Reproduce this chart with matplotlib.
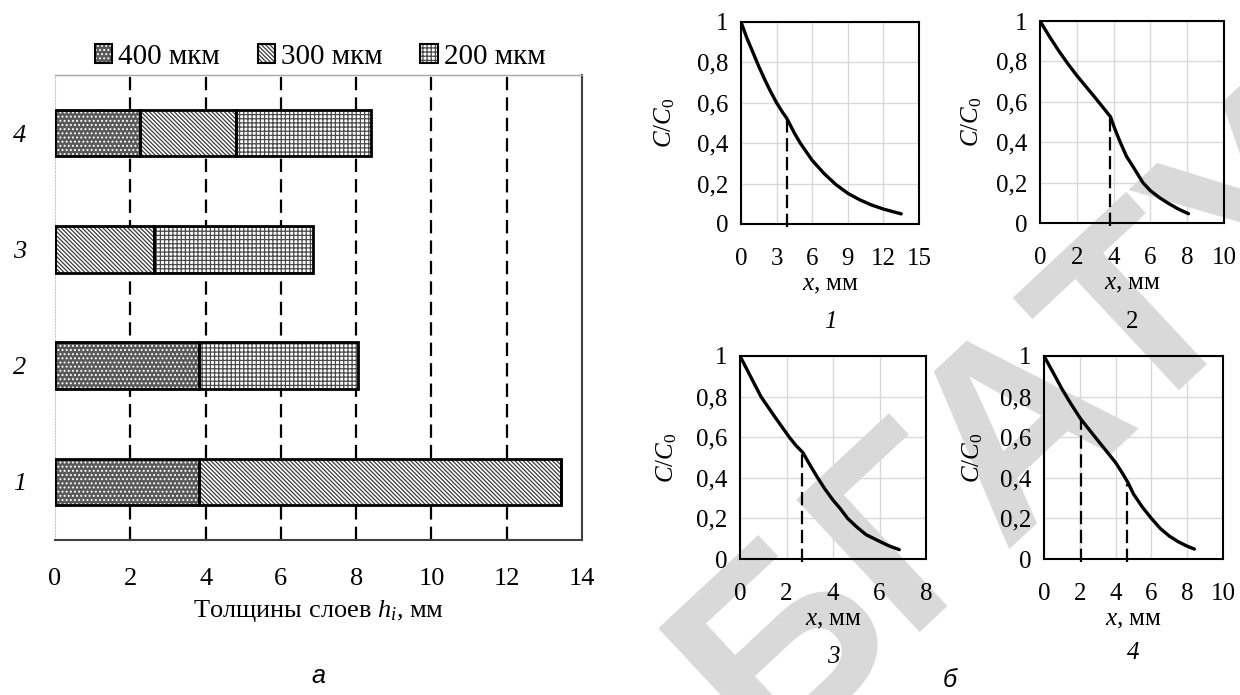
import matplotlib
matplotlib.use("Agg")
import matplotlib.pyplot as plt
from matplotlib.patches import Patch
import numpy as np

plt.rcParams['font.family'] = ['Liberation Serif', 'DejaVu Serif']
plt.rcParams['mathtext.fontset'] = 'custom'
plt.rcParams['mathtext.rm'] = 'Liberation Serif'
plt.rcParams['mathtext.it'] = 'Liberation Serif:italic'
plt.rcParams['hatch.linewidth'] = 0.9

# ---------------- data ----------------
categories = ['1', '2', '3', '4']
h400 = [3.83, 3.83, 0.00, 2.26]
h300 = [9.62, 0.00, 2.63, 2.56]
h200 = [0.00, 4.21, 4.22, 3.57]
series_labels = ['400 мкм', '300 мкм', '200 мкм']
bar_xticks = [0, 2, 4, 6, 8, 10, 12, 14]

c1_x = [0, 0.5, 1, 1.5, 2, 2.5, 3, 3.5, 3.86, 4.5, 5, 6, 7, 8, 9, 10, 11, 12, 13, 13.5]
c1_y = [1, 0.92, 0.85, 0.78, 0.715, 0.655, 0.60, 0.553, 0.523, 0.45, 0.40, 0.315, 0.25,
        0.195, 0.152, 0.12, 0.094, 0.074, 0.058, 0.05]
c2_x = [0, 0.5, 1, 1.5, 2, 2.5, 3, 3.4, 3.83, 4.05, 4.36, 4.7, 5.05, 5.59, 6.0, 6.5, 7.0, 7.5, 8.07]
c2_y = [1, 0.925, 0.855, 0.79, 0.73, 0.675, 0.62, 0.575, 0.526, 0.47, 0.40, 0.33, 0.28,
        0.20, 0.16, 0.125, 0.096, 0.07, 0.046]
c3_x = [0, 0.45, 0.9, 1.5, 2.12, 2.4, 2.7, 3.0, 3.34, 3.65, 4.0, 4.3, 4.63, 5.0, 5.42, 6.0, 6.4, 6.85]
c3_y = [1, 0.90, 0.80, 0.70, 0.60, 0.56, 0.525, 0.465, 0.40, 0.345, 0.29, 0.25, 0.20, 0.16,
        0.12, 0.087, 0.065, 0.046]
c4_x = [0, 0.5, 1.0, 1.5, 2.05, 2.5, 3.0, 3.5, 4.0, 4.4, 4.7, 5.0, 5.5, 6.0, 6.5, 7.0, 7.5, 8.0, 8.4]
c4_y = [1, 0.92, 0.838, 0.765, 0.69, 0.64, 0.585, 0.53, 0.475, 0.42, 0.375, 0.32, 0.255,
        0.20, 0.15, 0.113, 0.085, 0.063, 0.049]

d1_x, d1_y = [3.86], [0.523]
d2_x, d2_y = [3.78], [0.52]
d3_x, d3_y = [2.65], [0.52]
d4_x, d4_y = [2.05, 4.65], [0.69, 0.37]

sub_xticks = [[0, 3, 6, 9, 12, 15], [0, 2, 4, 6, 8, 10], [0, 2, 4, 6, 8], [0, 2, 4, 6, 8, 10]]
sub_yticks = [0, 0.2, 0.4, 0.6, 0.8, 1.0]
sub_yticklabels = ['0', '0,2', '0,4', '0,6', '0,8', '1']
sub_captions = ['1', '2', '3', '4']

# ---------------- figure ----------------
W, H = 1240, 695
fig = plt.figure(figsize=(W / 100, H / 100), dpi=100)

def add_ax(l, r, t, b):
    return fig.add_axes([l / W, 1 - b / H, (r - l) / W, (b - t) / H])

# watermark (behind everything)
fig.text(1020 / W, 1 - 430 / H, 'БГАТУ', rotation=43, fontsize=190, color='#d9d9d9',
         fontweight='bold', family='Liberation Sans', ha='center', va='center',
         rotation_mode='anchor', zorder=-1)

# ---------------- left bar chart ----------------
ax = add_ax(55, 582, 75, 540)
y = np.arange(1, len(categories) + 1)
bh = 0.40
styles = [dict(face='#595959', hcol='white', hatch='....'),
          dict(face='white', hcol='#3a3a3a', hatch='\\\\\\\\\\\\\\\\'),
          dict(face='white', hcol='#4a4a4a', hatch='++++')]
left = np.zeros(len(categories))
handles = []
for vals, st, lab in zip([h400, h300, h200], styles, series_labels):
    vals = np.array(vals)
    ax.barh(y, vals, height=bh, left=left, color=st['face'], edgecolor=st['hcol'],
            hatch=st['hatch'], linewidth=0, zorder=2)
    ax.barh(y, vals, height=bh, left=left, facecolor='none', edgecolor='black',
            linewidth=2.0, zorder=3)
    left = left + vals
    p1 = Patch(facecolor=st['face'], edgecolor=st['hcol'], hatch=st['hatch'], linewidth=0)
    p2 = Patch(facecolor='none', edgecolor='black', linewidth=1.5)
    handles.append((p1, p2))

ax.set_xlim(0, 14)
ax.set_ylim(0.5, 4.5)
ax.set_xticks(bar_xticks)
ax.set_xticklabels([str(v) for v in bar_xticks], fontsize=19)
ax.set_yticks(y)
ax.set_yticklabels(categories, fontsize=19, style='italic')
ax.tick_params(axis='both', length=0)
ax.tick_params(axis='x', pad=20)
ax.tick_params(axis='y', pad=21)
for xv in bar_xticks[1:-1]:
    ax.axvline(xv, color='black', lw=1.6, linestyle=(0, (6, 3.2)), zorder=1)
ax.spines['top'].set_color('#a6a6a6')
ax.spines['top'].set_linewidth(1.0)
ax.spines['right'].set_color('#404040')
ax.spines['right'].set_linewidth(1.5)
ax.spines['bottom'].set_color('#404040')
ax.spines['bottom'].set_linewidth(1.5)
ax.spines['left'].set_color('#c8c8c8')
ax.spines['left'].set_linewidth(0.8)
ax.spines['left'].set_linestyle(':')
ax.set_xlabel('Толщины слоев $h_i$, мм', fontsize=19, labelpad=6)
ax.legend(handles, series_labels, loc='center', bbox_to_anchor=(320 / W, 1 - 57 / H),
          bbox_transform=fig.transFigure, ncol=3, frameon=False, fontsize=21,
          handlelength=0.6, handleheight=0.6, handletextpad=0.2, columnspacing=1.3)

# ---------------- right small plots ----------------
boxes = [(741, 919, 22, 224), (1040, 1224, 21, 223), (740, 926, 356, 559), (1044, 1223, 356, 559)]
curves = [(c1_x, c1_y), (c2_x, c2_y), (c3_x, c3_y), (c4_x, c4_y)]
dashes = [(d1_x, d1_y), (d2_x, d2_y), (d3_x, d3_y), (d4_x, d4_y)]
ylabel_x = [677, 984, 679, 985]
caption_y = [322, 322, 657, 653]
caption_style = ['italic', 'normal', 'italic', 'italic']

for i in range(4):
    l, r, t, b = boxes[i]
    a = add_ax(l, r, t, b)
    a.set_facecolor('none')
    cx, cy = curves[i]
    a.plot(cx, cy, color='black', lw=2.4, solid_capstyle='round', zorder=3)
    dx, dy = dashes[i]
    for xx, yy in zip(dx, dy):
        a.plot([xx, xx], [-0.015, yy], color='black', lw=1.6, linestyle=(0, (6, 2.5)),
               clip_on=False, zorder=3)
    xt = sub_xticks[i]
    a.set_xlim(xt[0], xt[-1])
    a.set_ylim(0, 1)
    a.set_xticks(xt)
    a.set_xticklabels([str(v) for v in xt], fontsize=18)
    a.set_yticks(sub_yticks)
    a.set_yticklabels(sub_yticklabels, fontsize=18)
    a.grid(True, color='#d9d9d9', lw=1.0, zorder=0)
    a.set_axisbelow(True)
    a.tick_params(axis='both', length=0)
    a.tick_params(axis='x', pad=17)
    a.tick_params(axis='y', pad=9)
    for s in a.spines.values():
        s.set_color('black')
        s.set_linewidth(1.5)
    a.set_xlabel('$x$, мм', fontsize=18, labelpad=3)
    a.set_ylabel('$C/C_0$', fontsize=18)
    a.yaxis.set_label_coords((ylabel_x[i] - l) / (r - l), 0.5)
    fig.text((l + r) / 2 / W, 1 - caption_y[i] / H, sub_captions[i], fontsize=18,
             style=caption_style[i], ha='center', va='center')

fig.text(318 / W, 1 - 676 / H, 'а', fontsize=18, style='italic', family='Liberation Sans',
         ha='center', va='center')
fig.text(950 / W, 1 - 680 / H, 'б', fontsize=18, style='italic', family='Liberation Sans',
         ha='center', va='center')

fig.savefig('out.png', dpi=100)
